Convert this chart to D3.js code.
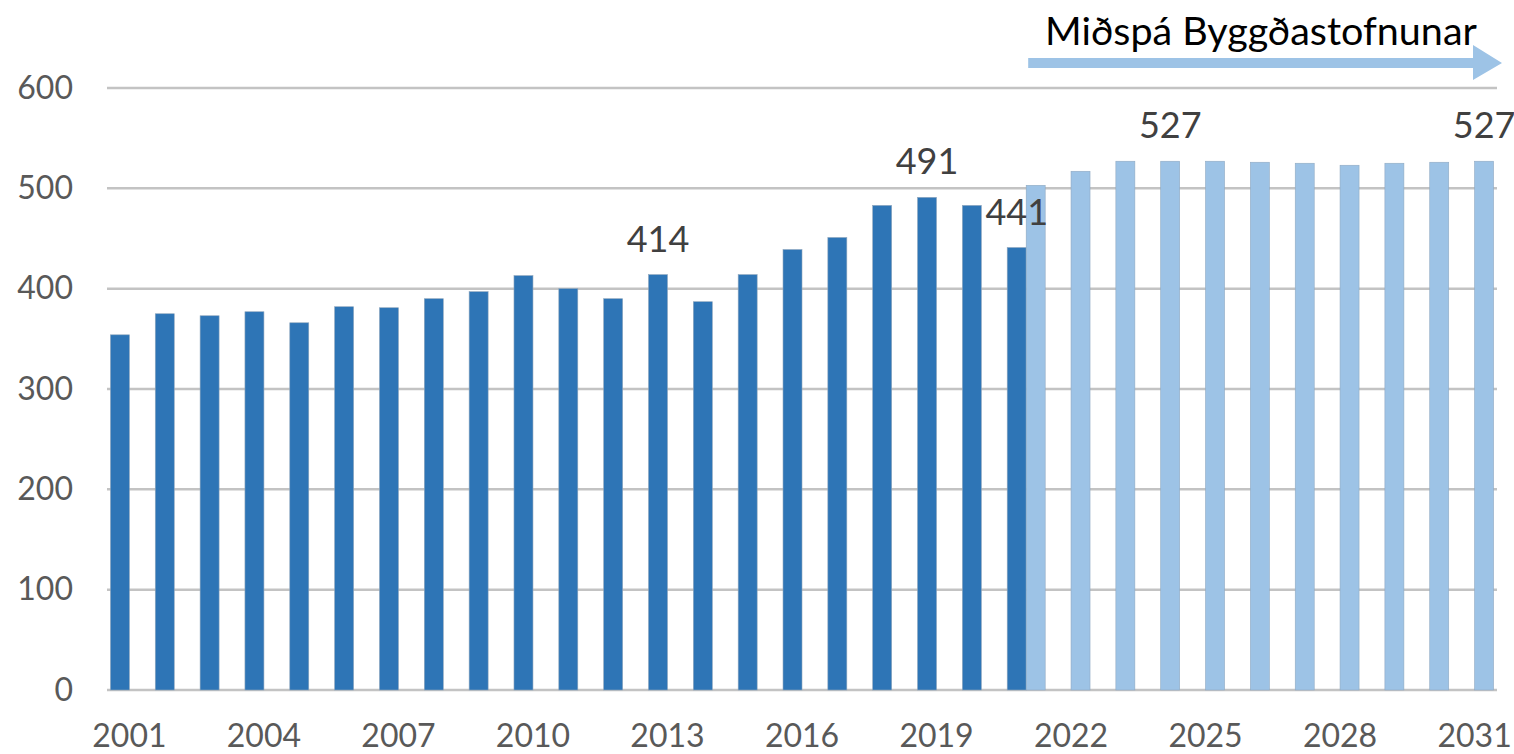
<!DOCTYPE html>
<html>
<head>
<meta charset="utf-8">
<script src="https://cdn.jsdelivr.net/npm/d3@7"></script>
<style>
    body { margin: 0; background: #ffffff; }
    #chart { width: 1514px; height: 754px; }
</style>
</head>
<body>
<div id="chart"></div>
<script>

// data
var years = d3.range(2001, 2032).map(String);

var actualYears = d3.range(2001, 2022).map(String);
var actualValues = [354, 375, 373, 377, 366, 382, 381, 390, 397, 413,
                    400, 390, 414, 387, 414, 439, 451, 483, 491, 483, 441];

var forecastYears = d3.range(2021, 2032).map(String);
var forecastValues = [503, 517, 527, 527, 527, 526, 525, 523, 525, 526, 527];

var yTicks = [0, 100, 200, 300, 400, 500, 600];
var xTickLabels = ["2001","2004","2007","2010","2013","2016","2019","2022","2025","2028","2031"];

// which bars carry a value label
var labelledActual = ["2013", "2019", "2021"];
var labelledForecast = ["2024", "2031"];

var titleText = "Miðspá Byggðastofnunar";


var width = document.querySelector("#chart").clientWidth;
var height = document.querySelector("#chart").clientHeight;
var svg = d3.select("#chart")
    .append("svg")
    .attr("width", width)
    .attr("height", height);

var fontFamily = "Lato, 'Open Sans', sans-serif";

var xScale = d3.scaleBand()
    .domain(years)
    .range([107, 1497])
    .paddingInner(0.153)
    .paddingOuter(0.0765);

var slot = d3.scaleBand()
    .domain(["actual", "forecast"])
    .range([0, xScale.bandwidth()]);

var yScale = d3.scaleLinear()
    .domain([0, 600])
    .range([690, 88]);


// gridlines
svg.selectAll(".grid")
    .data(yTicks)
    .enter()
    .append("line")
    .attr("class", "grid")
    .attr("x1", 107)
    .attr("x2", 1497)
    .attr("y1", function(d){ return yScale(d); })
    .attr("y2", function(d){ return yScale(d); })
    .attr("stroke", "#c3c3c3")
    .attr("stroke-width", 2.5);


var actualData = actualYears.map(function(y, i){ return {year: y, value: actualValues[i]}; });
var forecastData = forecastYears.map(function(y, i){ return {year: y, value: forecastValues[i]}; });

svg.selectAll(".actual")
    .data(actualData)
    .enter()
    .append("rect")
    .attr("class", "actual")
    .attr("x", function(d){ return xScale(d.year) + slot("actual"); })
    .attr("y", function(d){ return yScale(d.value); })
    .attr("width", slot.bandwidth())
    .attr("height", function(d){ return yScale(0) - yScale(d.value); })
    .attr("fill", "#2e75b6")
    .attr("stroke", "#8ea6bd")
    .attr("stroke-width", 0.6);

svg.selectAll(".forecast")
    .data(forecastData)
    .enter()
    .append("rect")
    .attr("class", "forecast")
    .attr("x", function(d){ return xScale(d.year) + slot("forecast"); })
    .attr("y", function(d){ return yScale(d.value); })
    .attr("width", slot.bandwidth())
    .attr("height", function(d){ return yScale(0) - yScale(d.value); })
    .attr("fill", "#9dc3e6")
    .attr("stroke", "#8fa9c2")
    .attr("stroke-width", 0.6);


// value labels
var labelData = actualData.filter(function(d){ return labelledActual.indexOf(d.year) > -1; })
    .map(function(d){ return {year: d.year, value: d.value, s: "actual"}; })
    .concat(forecastData.filter(function(d){ return labelledForecast.indexOf(d.year) > -1; })
    .map(function(d){ return {year: d.year, value: d.value, s: "forecast"}; }));

svg.selectAll(".vlabel")
    .data(labelData)
    .enter()
    .append("text")
    .attr("class", "vlabel")
    .attr("x", function(d){ return xScale(d.year) + slot(d.s) + slot.bandwidth()/2; })
    .attr("y", function(d){ return yScale(d.value) - 23; })
    .attr("text-anchor", "middle")
    .attr("font-family", fontFamily)
    .attr("font-size", "36px")
    .attr("fill", "#404040")
    .text(function(d){ return d.value; });


// axes
var yAxis = d3.axisLeft(yScale)
    .tickValues(yTicks)
    .tickSize(0)
    .tickPadding(34);

svg.append("g")
    .attr("class", "yaxis")
    .attr("transform", "translate(107,0)")
    .call(yAxis)
    .call(function(g){ g.select(".domain").remove(); })
    .selectAll("text")
    .attr("font-family", fontFamily)
    .attr("font-size", "32px")
    .attr("fill", "#595959");

var xAxis = d3.axisBottom(xScale)
    .tickValues(xTickLabels)
    .tickSize(0)
    .tickPadding(34);

svg.append("g")
    .attr("class", "xaxis")
    .attr("transform", "translate(0,690)")
    .call(xAxis)
    .call(function(g){ g.select(".domain").remove(); })
    .selectAll("text")
    .attr("font-family", fontFamily)
    .attr("font-size", "32px")
    .attr("fill", "#595959");


// forecast arrow + title
var arrowStart = xScale(forecastYears[0]) + slot("forecast") + 2;
var arrowEnd = 1502;
var arrowY = 63;

svg.append("path")
    .attr("d", "M" + arrowStart + "," + (arrowY - 5)
        + " L" + (arrowEnd - 29) + "," + (arrowY - 5)
        + " L" + (arrowEnd - 29) + "," + (arrowY - 18)
        + " L" + arrowEnd + "," + arrowY
        + " L" + (arrowEnd - 29) + "," + (arrowY + 17)
        + " L" + (arrowEnd - 29) + "," + (arrowY + 5)
        + " L" + arrowStart + "," + (arrowY + 5) + " Z")
    .attr("fill", "#9dc3e6");

svg.append("text")
    .attr("x", 1261)
    .attr("y", 45)
    .attr("text-anchor", "middle")
    .attr("font-family", fontFamily)
    .attr("font-size", "39.5px")
    .attr("fill", "#000000")
    .text(titleText);

</script>
</body>
</html>
